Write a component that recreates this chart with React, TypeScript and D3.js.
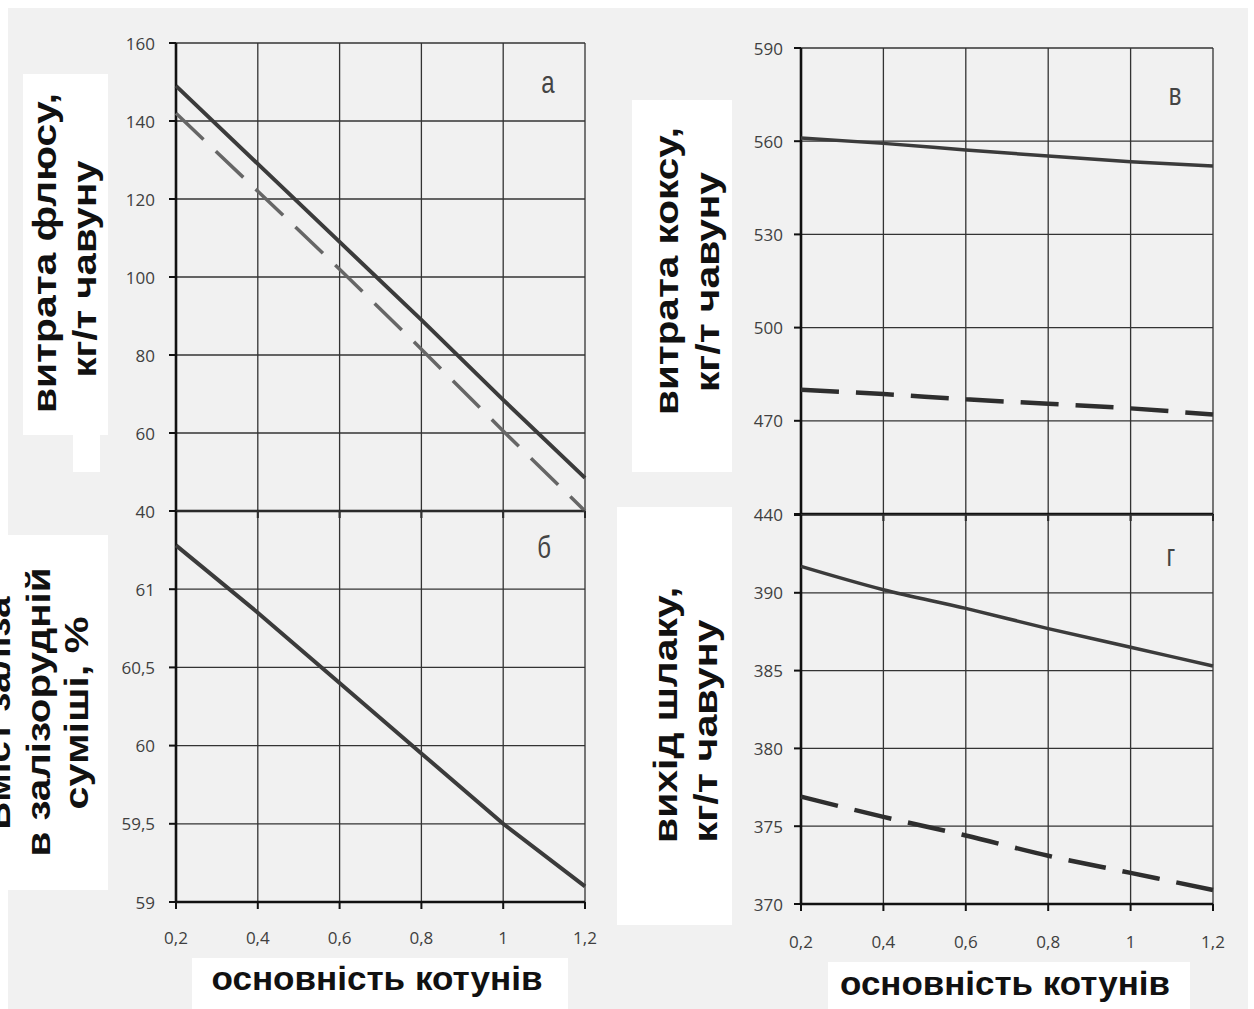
import * as d3 from 'd3';

// basicity of pellets (x axis, shared by all four panels)
const basicity = [0.2, 0.4, 0.6, 0.8, 1.0, 1.2];

// а: flux consumption, kg/t pig iron
const fluxSolid = [149, 129, 109, 89, 68.5, 48.5];
const fluxDashed = [142, 122, 102, 81.5, 60.5, 40];
// б: iron content in the ore mix, %
const ironSolid = [61.28, 60.85, 60.4, 59.95, 59.5, 59.1];
// в: coke consumption, kg/t pig iron
const cokeSolid = [561, 559.3, 557.2, 555.2, 553.4, 552];
const cokeDashed = [480, 478.6, 476.9, 475.5, 474, 472];
// г: slag yield, kg/t pig iron
const slagSolid = [391.7, 390.2, 389, 387.7, 386.5, 385.3];
const slagDashed = [376.9, 375.6, 374.4, 373.1, 372, 370.9];

const fluxTicks = [40, 60, 80, 100, 120, 140, 160];
const ironTicks = [59, 59.5, 60, 60.5, 61, 61.5];
const cokeTicks = [440, 470, 500, 530, 560, 590];
const slagTicks = [370, 375, 380, 385, 390, 395];

const fmt = (v: number) => String(v).replace('.', ',');

interface Series {
  values: number[];
  dashed: boolean;
  color: string;
  width: number;
}

interface Panel {
  letter: string;
  xRange: [number, number];
  yRange: [number, number];
  domain: [number, number];
  ticks: number[];
  hideTopLabel: boolean;
  xLabels: boolean;
  xLabelY: number;
  labelGap: number;
  letterPos: [number, number];
  smooth: boolean;
  series: Series[];
}

const SOLID = '#3b3b3b';

const panels: Panel[] = [
  {
    letter: 'а', xRange: [176, 585], yRange: [511, 43], domain: [40, 160], ticks: fluxTicks,
    hideTopLabel: false, xLabels: false, xLabelY: 0, labelGap: 21, letterPos: [548, 82], smooth: false,
    series: [
      { values: fluxSolid, dashed: false, color: SOLID, width: 4 },
      { values: fluxDashed, dashed: true, color: '#666666', width: 3.5 },
    ],
  },
  {
    letter: 'б', xRange: [176, 585], yRange: [902, 511], domain: [59, 61.5], ticks: ironTicks,
    hideTopLabel: true, xLabels: true, xLabelY: 937, labelGap: 21, letterPos: [544, 547], smooth: false,
    series: [{ values: ironSolid, dashed: false, color: SOLID, width: 4 }],
  },
  {
    letter: 'в', xRange: [801, 1213], yRange: [514, 48], domain: [440, 590], ticks: cokeTicks,
    hideTopLabel: false, xLabels: false, xLabelY: 0, labelGap: 18, letterPos: [1175, 94], smooth: true,
    series: [
      { values: cokeSolid, dashed: false, color: SOLID, width: 3.5 },
      { values: cokeDashed, dashed: true, color: '#2e2e2e', width: 4.5 },
    ],
  },
  {
    letter: 'г', xRange: [801, 1213], yRange: [904, 515], domain: [370, 395], ticks: slagTicks,
    hideTopLabel: true, xLabels: true, xLabelY: 941, labelGap: 18, letterPos: [1171, 555], smooth: true,
    series: [
      { values: slagSolid, dashed: false, color: SOLID, width: 3.5 },
      { values: slagDashed, dashed: true, color: '#2e2e2e', width: 4.5 },
    ],
  },
];

const TICK_FONT = "'Open Sans', 'DejaVu Sans', sans-serif";
const TITLE_FONT = "'Liberation Sans', Arial, sans-serif";

function PanelChart({ p }: { p: Panel }) {
  const x = d3.scaleLinear().domain([0.2, 1.2]).range(p.xRange);
  const y = d3.scaleLinear().domain(p.domain).range(p.yRange);
  const [x0, x1] = p.xRange;
  const [yb, yt] = p.yRange;
  const line = d3
    .line<number>()
    .x((_, i) => x(basicity[i]))
    .y((d) => y(d))
    .curve(p.smooth ? d3.curveMonotoneX : d3.curveLinear);

  return (
    <g>
      {/* grid */}
      {p.ticks.map((t) => (
        <line key={'h' + t} x1={x0} x2={x1} y1={y(t)} y2={y(t)} stroke="#333" strokeWidth={1.3} />
      ))}
      {basicity.map((b) => (
        <line key={'v' + b} x1={x(b)} x2={x(b)} y1={yt} y2={yb} stroke="#333" strokeWidth={1.3} />
      ))}
      {/* axes */}
      <line x1={x0} x2={x0} y1={yt} y2={yb} stroke="#111" strokeWidth={2.6} />
      <line x1={x0} x2={x1} y1={yb} y2={yb} stroke="#111" strokeWidth={2.6} />
      {p.ticks.map((t) => (
        <line key={'yt' + t} x1={x0 - 7} x2={x0} y1={y(t)} y2={y(t)} stroke="#111" strokeWidth={2} />
      ))}
      {basicity.map((b) => (
        <line key={'xt' + b} x1={x(b)} x2={x(b)} y1={yb} y2={yb + 7} stroke="#111" strokeWidth={2} />
      ))}
      {/* tick labels */}
      {p.ticks.map((t, i) =>
        p.hideTopLabel && i === p.ticks.length - 1 ? null : (
          <text
            key={'yl' + t}
            x={x0 - p.labelGap}
            y={y(t)}
            textAnchor="end"
            dominantBaseline="central"
            fontFamily={TICK_FONT}
            fontSize={17}
            fill="#404040"
          >
            {fmt(t)}
          </text>
        )
      )}
      {p.xLabels &&
        basicity.map((b) => (
          <text
            key={'xl' + b}
            x={x(b)}
            y={p.xLabelY}
            textAnchor="middle"
            dominantBaseline="central"
            fontFamily={TICK_FONT}
            fontSize={17}
            fill="#404040"
          >
            {fmt(b)}
          </text>
        ))}
      {/* data */}
      {p.series.map((s, i) => (
        <path
          key={'s' + i}
          d={line(s.values) || ''}
          fill="none"
          stroke={s.color}
          strokeWidth={s.width}
          strokeDasharray={s.dashed ? '38 17' : undefined}
        />
      ))}
      <text
        transform={`translate(${p.letterPos[0]},${p.letterPos[1]}) scale(1,1.3)`}
        textAnchor="middle"
        dominantBaseline="central"
        fontFamily={TITLE_FONT}
        fontSize={24}
        fill="#444"
      >
        {p.letter}
      </text>
    </g>
  );
}

// rotated y-axis titles: [text, baseline x, centre y, length]
const yTitles: [string, number, number, number][] = [
  ['витрата флюсу,', 56, 253, 320],
  ['кг/т чавуну', 96, 269, 217],
  ['Вміст заліза', 10, 713, 233],
  ['в залізорудній', 50, 712, 289],
  ['суміші, %', 88, 713, 193],
  ['витрата коксу,', 678, 271, 288],
  ['кг/т чавуну', 719, 282, 220],
  ['вихід шлаку,', 677, 715, 256],
  ['кг/т чавуну', 717, 731, 223],
];

const xTitles: [string, number, number, number][] = [
  ['основність котунів', 377, 990, 331],
  ['основність котунів', 1005, 995, 330],
];

// white label boxes behind titles: [x, y, w, h]
const boxes: [number, number, number, number][] = [
  [23, 74, 85, 361],
  [73, 435, 27, 37],
  [8, 535, 100, 355],
  [632, 100, 100, 372],
  [617, 507, 115, 418],
  [192, 958, 376, 51],
  [828, 962, 362, 47],
];

export default function App() {
  return (
    <svg
      width={1254}
      height={1009}
      style={{ position: 'absolute', left: 0, top: 0, background: '#fff' }}
    >
      <rect x={8} y={8} width={1240} height={1001} fill="#f1f1f1" />
      {boxes.map((b, i) => (
        <rect key={'b' + i} x={b[0]} y={b[1]} width={b[2]} height={b[3]} fill="#fff" />
      ))}
      {panels.map((p) => (
        <PanelChart key={p.letter} p={p} />
      ))}
      {yTitles.map(([t, bx, cy, len], i) => (
        <text
          key={'yt' + i}
          transform={`translate(${bx},${cy}) rotate(-90)`}
          textAnchor="middle"
          fontFamily={TITLE_FONT}
          fontWeight="bold"
          fontSize={33}
          fill="#111"
          textLength={len}
          lengthAdjust="spacingAndGlyphs"
        >
          {t}
        </text>
      ))}
      {xTitles.map(([t, cx, by, len], i) => (
        <text
          key={'xt' + i}
          x={cx}
          y={by}
          textAnchor="middle"
          fontFamily={TITLE_FONT}
          fontWeight="bold"
          fontSize={34}
          fill="#111"
          textLength={len}
          lengthAdjust="spacingAndGlyphs"
        >
          {t}
        </text>
      ))}
    </svg>
  );
}
